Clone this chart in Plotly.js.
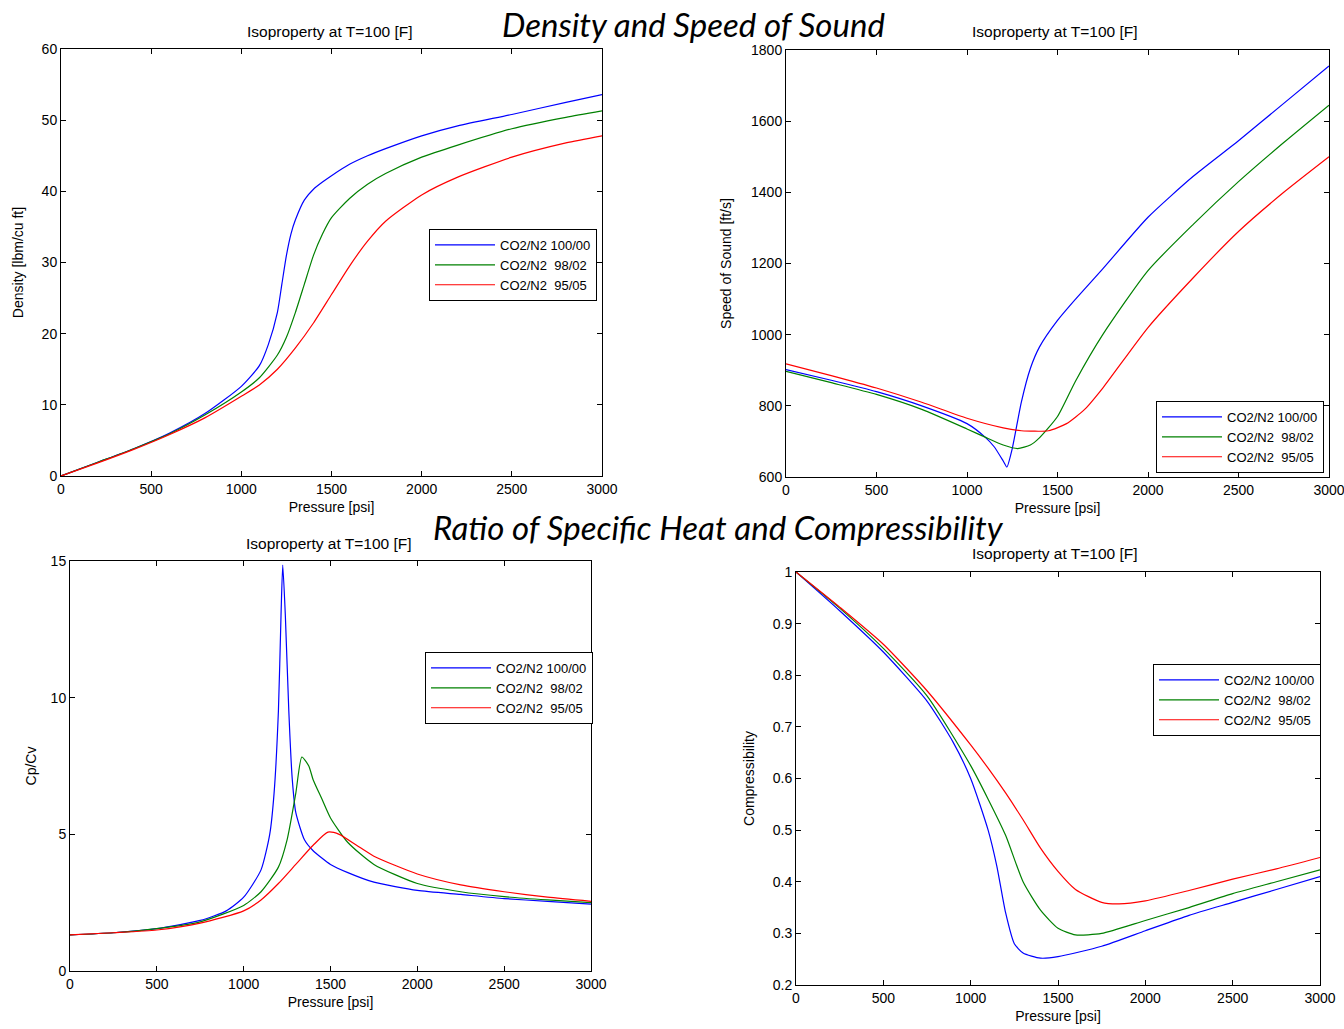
<!DOCTYPE html>
<html>
<head>
<meta charset="utf-8">
<script src="https://cdn.plot.ly/plotly-3.0.1.min.js"></script>
<style>html,body{margin:0;padding:0;background:#fff;}#chart{width:1344px;height:1029px;}</style>
</head>
<body>
<div id="chart"></div>
<script>
// ---------- Data ----------
const seriesNames = ["CO2/N2 100/00", "CO2/N2  98/02", "CO2/N2  95/05"];
const seriesColors = ["#0000ff", "#008000", "#ff0000"];

// Density [lbm/cu ft] vs pressure [psi]
const densP_100 = [0,200,400,600,800,1000,1100,1150,1200,1225,1250,1275,1300,1350,1400,1450,1500,1600,1700,1800,2000,2200,2500,2800,3000];
const densV_100 = [0,1.9,3.8,6.0,8.8,12.6,15.5,18.5,23,27,31,34,36,38.8,40.3,41.3,42.2,43.8,45,46,47.8,49.2,50.8,52.5,53.6];
const densP_98 = [0,200,400,600,800,1000,1100,1200,1250,1300,1350,1400,1450,1500,1600,1700,1800,2000,2200,2500,2800,3000];
const densV_98 = [0,1.9,3.8,5.9,8.6,11.8,13.8,17,19.5,23,27,31,34,36.3,39,41,42.5,44.8,46.5,48.8,50.4,51.3];
const densP_95 = [0,200,400,600,800,1000,1100,1200,1300,1400,1500,1600,1700,1800,2000,2200,2500,2800,3000];
const densV_95 = [0,1.8,3.7,5.8,8.2,11.2,12.8,15,18,21.5,25.5,29.5,33,35.8,39.5,42,44.8,46.8,47.8];

// Speed of sound [ft/s]
const sosP_100 = [0,250,500,750,1000,1100,1150,1200,1220,1250,1300,1350,1400,1500,1600,1750,2000,2250,2500,2750,3000];
const sosV_100 = [902,872,840,800,750,712,685,645,628,680,810,905,965,1040,1100,1185,1330,1445,1545,1650,1755];
const sosP_98 = [0,250,500,750,1000,1100,1200,1280,1350,1400,1500,1600,1750,2000,2250,2500,2750,3000];
const sosV_98 = [897,865,832,790,735,712,690,680,690,710,770,870,1000,1180,1310,1430,1540,1645];
const sosP_95 = [0,250,500,750,1000,1200,1300,1450,1550,1650,1750,2000,2250,2500,2750,3000];
const sosV_95 = [918,885,850,810,765,738,730,730,750,790,850,1020,1160,1290,1400,1500];

// Cp/Cv
const cpP_100 = [0,250,500,750,900,1000,1100,1150,1175,1200,1215,1225,1240,1260,1280,1300,1350,1400,1500,1600,1750,2000,2250,2500,2750,3000];
const cpV_100 = [1.32,1.4,1.55,1.85,2.2,2.7,3.7,5,6.5,9.5,13,14.85,13,9.5,7,5.8,4.8,4.4,3.9,3.6,3.25,2.95,2.8,2.65,2.55,2.45];
const cpP_98 = [0,250,500,750,1000,1100,1200,1250,1300,1335,1375,1400,1450,1500,1600,1750,2000,2250,2500,2750,3000];
const cpV_98 = [1.32,1.4,1.55,1.8,2.4,2.9,3.8,4.8,6.5,7.83,7.5,7.0,6.3,5.6,4.7,3.9,3.2,2.9,2.72,2.6,2.5];
const cpP_95 = [0,250,500,750,1000,1100,1200,1300,1400,1485,1550,1650,1750,2000,2250,2500,2750,3000];
const cpV_95 = [1.32,1.4,1.5,1.75,2.2,2.6,3.2,3.9,4.6,5.08,5.0,4.6,4.2,3.55,3.15,2.9,2.7,2.55];

// Compressibility
const zP_100 = [0,250,500,750,900,1000,1100,1150,1200,1250,1300,1400,1500,1750,2000,2250,2500,2750,3000];
const zV_100 = [1,0.925,0.845,0.75,0.67,0.6,0.5,0.43,0.34,0.28,0.262,0.252,0.255,0.275,0.305,0.335,0.36,0.385,0.41];
const zP_98 = [0,250,500,750,1000,1100,1200,1300,1400,1500,1600,1750,2000,2250,2500,2750,3000];
const zV_98 = [1,0.93,0.852,0.76,0.625,0.56,0.49,0.4,0.345,0.31,0.297,0.3,0.325,0.35,0.377,0.4,0.423];
const zP_95 = [0,250,500,750,1000,1100,1200,1300,1400,1500,1600,1750,1850,2000,2250,2500,2750,3000];
const zV_95 = [1,0.932,0.86,0.77,0.665,0.62,0.572,0.52,0.465,0.42,0.385,0.36,0.357,0.363,0.383,0.405,0.425,0.447];

const subTitle = "Isoproperty at T=100 [F]";
const xTitle = "Pressure [psi]";

// ---------- Build ----------
const W = 1344, H = 1029;
const FONT = "Liberation Sans, Arial, sans-serif";
function px(x){return x/W;}
function py(y){return 1 - y/H;}

const panels = [
  {P:[densP_100,densP_98,densP_95], V:[densV_100,densV_98,densV_95], xa:'x', ya:'y', lg:'legend'},
  {P:[sosP_100,sosP_98,sosP_95], V:[sosV_100,sosV_98,sosV_95], xa:'x2', ya:'y2', lg:'legend2'},
  {P:[cpP_100,cpP_98,cpP_95], V:[cpV_100,cpV_98,cpV_95], xa:'x3', ya:'y3', lg:'legend3'},
  {P:[zP_100,zP_98,zP_95], V:[zV_100,zV_98,zV_95], xa:'x4', ya:'y4', lg:'legend4'}
];
const traces = [];
panels.forEach(p => {
  for (let i=0;i<3;i++){
    traces.push({
      x: p.P[i], y: p.V[i], xaxis: p.xa, yaxis: p.ya, legend: p.lg,
      type: 'scatter', mode: 'lines', name: seriesNames[i],
      line: {color: seriesColors[i], width: 1.2, shape: 'spline', smoothing: 0.6}
    });
  }
});

function xax(d, anchor){
  return {domain: d, anchor: anchor, range: [0,3000], tickvals:[0,500,1000,1500,2000,2500,3000],
    showline: true, mirror: 'ticks', linecolor: '#000', linewidth: 1, ticks: 'inside', ticklen: 5,
    tickcolor:'#000', showgrid: false, zeroline: false, tickfont: {family: FONT, size: 14, color:'#000'},
    ticklabeloverflow: 'allow',
    title: {text: xTitle, font: {family: FONT, size: 14, color:'#000'}, standoff: 6}};
}
function yax(d, anchor, range, tv, title, standoff){
  return {domain: d, anchor: anchor, range: range, tickvals: tv,
    showline: true, mirror: 'ticks', linecolor: '#000', linewidth: 1, ticks: 'inside', ticklen: 5,
    tickcolor:'#000', showgrid: false, zeroline: false, tickfont: {family: FONT, size: 14, color:'#000'},
    ticklabeloverflow: 'allow',
    title: {text: title, font: {family: FONT, size: 14, color:'#000'}, standoff: standoff}};
}
function leg(x0, y0){
  return {x: px(x0), y: py(y0), xanchor: 'left', yanchor: 'top', bgcolor: '#fff',
    bordercolor: '#000', borderwidth: 1, font: {family: FONT, size: 13, color: '#000'},
    tracegroupgap: 0, itemwidth: 60};
}
function ann(text, x, y, font){
  return {text: text, x: px(x), y: py(y), xref:'paper', yref:'paper', xanchor:'center', yanchor:'middle', showarrow:false, font: font};
}
const subFont = {family:FONT,size:15.5,color:'#000'};
const mainFont = {family:"Lato, Open Sans, sans-serif",size:33,color:'#000'};

const layout = {
  width: W, height: H, margin: {l:0, r:0, t:0, b:0},
  paper_bgcolor: '#fff', plot_bgcolor: '#fff', showlegend: true,
  xaxis:  xax([px(61), px(602)], 'y'),
  yaxis:  yax([py(476), py(49)], 'x', [0,60], [0,10,20,30,40,50,60], 'Density [lbm/cu ft]', 14),
  xaxis2: xax([px(786), px(1329)], 'y2'),
  yaxis2: yax([py(477), py(50)], 'x2', [600,1800], [600,800,1000,1200,1400,1600,1800], 'Speed of Sound [ft/s]', 16),
  xaxis3: xax([px(70), px(591)], 'y3'),
  yaxis3: yax([py(971), py(561)], 'x3', [0,15], [0,5,10,15], 'Cp/Cv', 10),
  xaxis4: xax([px(796), px(1320)], 'y4'),
  yaxis4: yax([py(985), py(572)], 'x4', [0.2,1], [0.2,0.3,0.4,0.5,0.6,0.7,0.8,0.9,1], 'Compressibility', 14),
  legend:  leg(429, 229),
  legend2: leg(1156, 401),
  legend3: leg(425, 652),
  legend4: leg(1153, 664),
  annotations: [
    ann(subTitle, 330, 31, subFont),
    ann(subTitle, 1055, 31, subFont),
    ann(subTitle, 329, 543, subFont),
    ann(subTitle, 1055, 553, subFont),
    ann("<i>Density and Speed of Sound</i>", 693, 24, mainFont),
    ann("<i>Ratio of Specific Heat and Compressibility</i>", 718, 527, mainFont)
  ]
};

Plotly.newPlot('chart', traces, layout, {displayModeBar: false, staticPlot: true});
</script>
</body>
</html>
